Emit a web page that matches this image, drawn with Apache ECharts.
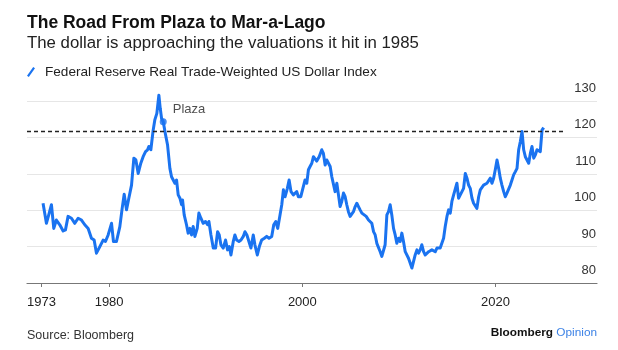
<!DOCTYPE html>
<html>
<head>
<meta charset="utf-8">
<script src="https://cdn.jsdelivr.net/npm/echarts@6/dist/echarts.min.js"></script>
<style>
  html, body { margin: 0; padding: 0; background: #fff; }
  #chart { width: 618px; height: 350px; }
</style>
</head>
<body>
<div id="chart"></div>
<script>
  // decimal years
  const dates = [
    1973.16, 1973.51, 1973.75, 1974.03, 1974.27, 1974.54, 1974.89, 1975.24, 1975.48, 1975.75,
    1976.10, 1976.45, 1976.79, 1977.14, 1977.48, 1977.83, 1978.17, 1978.45, 1978.69, 1979.04,
    1979.38, 1979.62, 1979.90, 1980.07, 1980.25, 1980.45, 1980.76, 1981.11, 1981.35, 1981.56,
    1981.80, 1982.04, 1982.32, 1982.56, 1982.77, 1983.01, 1983.28, 1983.52, 1983.77, 1983.98,
    1984.11, 1984.32, 1984.56, 1984.73, 1984.94, 1985.15, 1985.29, 1985.43, 1985.60, 1985.84,
    1986.05, 1986.29, 1986.46, 1986.64, 1986.81, 1986.98, 1987.15, 1987.33, 1987.50, 1987.60,
    1987.77, 1988.01, 1988.18, 1988.36, 1988.53, 1988.70, 1988.88, 1989.12, 1989.29, 1989.50,
    1989.74, 1989.98, 1990.19, 1990.33, 1990.54, 1990.78, 1991.02, 1991.23, 1991.40, 1991.57,
    1991.81, 1992.05, 1992.26, 1992.44, 1992.61, 1992.85, 1993.02, 1993.20, 1993.44, 1993.65,
    1993.89, 1994.06, 1994.26, 1994.47, 1994.68, 1994.92, 1995.09, 1995.34, 1995.55, 1995.79,
    1996.07, 1996.31, 1996.55, 1996.83, 1997.04, 1997.25, 1997.45, 1997.69, 1997.87, 1998.04,
    1998.21, 1998.45, 1998.63, 1998.83, 1999.07, 1999.25, 1999.42, 1999.59, 1999.84, 2000.04,
    2000.28, 2000.46, 2000.63, 2000.80, 2000.98, 2001.15, 2001.32, 2001.49, 2001.74, 2002.01,
    2002.18, 2002.36, 2002.53, 2002.70, 2002.88, 2003.05, 2003.22, 2003.39, 2003.57, 2003.74,
    2003.91, 2004.08, 2004.26, 2004.43, 2004.60, 2004.77, 2004.95, 2005.12, 2005.29, 2005.47,
    2005.64, 2005.81, 2005.98, 2006.16, 2006.33, 2006.61, 2006.85, 2007.02, 2007.19, 2007.37,
    2007.54, 2007.71, 2007.88, 2008.06, 2008.23, 2008.40, 2008.57, 2008.75, 2008.92, 2009.09,
    2009.26, 2009.44, 2009.61, 2009.78, 2009.96, 2010.13, 2010.30, 2010.47, 2010.65, 2010.82,
    2010.99, 2011.17, 2011.34, 2011.51, 2011.68, 2011.86, 2012.03, 2012.20, 2012.37, 2012.55,
    2012.72, 2012.89, 2013.07, 2013.24, 2013.41, 2013.58, 2013.76, 2013.93, 2014.10, 2014.27,
    2014.45, 2014.62, 2014.79, 2014.97, 2015.14, 2015.31, 2015.48, 2015.66, 2015.83, 2016.00,
    2016.17, 2016.35, 2016.52, 2016.69, 2016.87, 2017.04, 2017.21, 2017.38, 2017.56, 2017.73,
    2017.90, 2018.07, 2018.25, 2018.42, 2018.59, 2018.76, 2018.94, 2019.11, 2019.28, 2019.46,
    2019.63, 2019.80, 2019.97, 2020.15, 2020.32, 2020.49, 2020.66, 2020.84, 2021.01, 2021.18,
    2021.36, 2021.53, 2021.70, 2021.87, 2022.05, 2022.22, 2022.39, 2022.56, 2022.74, 2022.91,
    2023.08, 2023.26, 2023.43, 2023.60, 2023.77, 2023.95, 2024.12, 2024.29, 2024.46, 2024.63,
    2024.81, 2024.98
  ];

  const dollarIndex = [
    101.9, 96.4, 98.7, 101.5, 95.0, 97.3, 96.0, 94.3, 94.6, 98.3,
    97.8, 96.4, 97.8, 97.3, 96.0, 95.0, 92.3, 91.8, 88.2, 90.0,
    91.8, 91.4, 93.2, 92.8, 96.4, 91.4, 91.4, 95.5, 100.5, 104.4,
    100.1, 103.3, 106.9, 114.3, 113.8, 110.1, 112.9, 114.7, 116.1, 116.6,
    117.5, 116.6, 122.0, 124.8, 126.6, 131.6, 128.0, 125.2, 124.3, 120.7,
    117.9, 111.5, 109.2, 108.8, 107.4, 108.3, 104.2, 103.3, 101.5, 102.8,
    98.7, 96.0, 93.7, 95.0, 93.2, 95.5, 92.8, 95.0, 99.2, 97.8,
    96.4, 96.9, 96.0, 96.9, 93.2, 89.6, 89.6, 94.1, 93.2, 90.5,
    89.6, 91.8, 89.1, 90.0, 87.7, 91.4, 93.2, 91.8, 91.4, 91.8,
    92.8, 94.1, 93.2, 91.4, 89.6, 93.2, 90.5, 87.7, 90.0, 91.8,
    92.3, 92.8, 92.3, 92.8, 96.0, 96.9, 95.0, 98.7, 101.5, 105.6,
    103.7, 106.0, 108.3, 105.1, 104.2, 103.7, 105.1, 103.7, 103.7, 104.2,
    108.3, 107.4, 111.1, 112.0, 112.9, 114.7, 115.2, 113.5, 114.7, 116.6,
    115.6, 112.4, 113.8, 114.3, 112.0, 109.2, 109.7, 105.1, 107.4, 104.2,
    101.0, 102.4, 104.7, 103.7, 101.5, 99.6, 98.3, 98.7, 99.6, 101.0,
    101.9, 101.0, 100.1, 99.2, 99.6, 98.3, 97.3, 97.8, 96.4, 94.1,
    93.2, 90.9, 90.5, 88.6, 87.3, 87.3, 90.5, 98.7, 99.6, 101.5,
    98.7, 95.0, 93.2, 90.9, 92.3, 91.4, 93.7, 91.4, 88.6, 88.2,
    86.8, 85.4, 84.1, 84.5, 87.7, 89.1, 88.2, 89.1, 90.5, 88.6,
    87.7, 88.2, 88.6, 88.2, 89.1, 89.6, 88.6, 89.6, 90.0, 89.6,
    89.1, 92.3, 95.5, 98.3, 100.1, 99.2, 102.4, 104.2, 104.2, 107.4,
    103.3, 104.2, 104.2, 106.0, 110.1, 108.8, 106.9, 106.0, 103.3, 101.9,
    102.4, 100.5, 103.7, 105.6, 106.0, 106.9, 106.5, 107.4, 106.9, 108.8,
    107.4, 108.8, 111.1, 113.8, 111.5, 108.8, 106.9, 105.1, 103.7, 104.7,
    105.1, 106.9, 108.3, 109.7, 110.6, 111.5, 116.6, 118.8, 121.6, 116.6,
    114.7, 114.3, 112.9, 115.6, 117.5, 114.3, 115.2, 116.6, 117.0, 116.1,
    122.0, 122.7
  ];

  const xTickYears = [1973, 1980, 2000, 2020];
  const yTicks = [80, 90, 100, 110, 120, 130];

  // Plaza Accord point and the level it marks
  const plazaPoint = [1985.60, 124.3];
  const plazaLevel = 121.8;
  const levelLineEnd = 2027;

  const xMin = 1971.5;
  const xMax = 2030.5;

  const blue = '#1a73f0';
  const font = 'Liberation Sans, Arial, sans-serif';

  const chart = echarts.init(document.getElementById('chart'), null, { renderer: 'canvas' });

  const lineData = dates.map((d, i) => [d, dollarIndex[i]]);

  chart.setOption({
    backgroundColor: '#fff',
    animation: false,
    textStyle: { fontFamily: font },

    title: {
      left: 27,
      top: 14,
      padding: 0,
      text: 'The Road From Plaza to Mar-a-Lago',
      subtext: 'The dollar is approaching the valuations it hit in 1985',
      itemGap: 3,
      textStyle: { fontSize: 17.5, fontWeight: 'bold', color: '#111', fontFamily: font },
      subtextStyle: { fontSize: 16.8, color: '#222', fontFamily: font }
    },

    legend: {
      left: 27,
      top: 65,
      padding: 0,
      itemWidth: 8,
      itemHeight: 12,
      icon: 'path://M0,10 L7,0 L9,1.4 L2,11.4 Z',
      textStyle: { fontSize: 13.6, color: '#222', padding: [0, 0, 0, 5] },
      data: [{ name: 'Federal Reserve Real Trade-Weighted US Dollar Index', itemStyle: { color: blue } }]
    },

    grid: {
      left: 27,
      right: 21,
      top: 101,
      bottom: 67
    },

    xAxis: {
      type: 'value',
      min: xMin,
      max: xMax,
      splitLine: { show: false },
      axisLine: { show: true, lineStyle: { color: '#777', width: 1.2 } },
      axisTick: { show: true, customValues: xTickYears, length: 4, lineStyle: { color: '#777', width: 1 } },
      axisLabel: {
        customValues: xTickYears,
        margin: 13,
        fontSize: 13,
        color: '#222',
        formatter: v => String(Math.round(v))
      }
    },

    yAxis: {
      type: 'value',
      position: 'right',
      min: 80,
      max: 130,
      interval: 10,
      axisLine: { show: false },
      axisTick: { show: false },
      splitLine: { show: true, lineStyle: { color: '#e6e6e6', width: 1 } },
      axisLabel: {
        inside: true,
        margin: 1,
        fontSize: 13,
        color: '#333',
        align: 'right',
        verticalAlign: 'bottom',
        padding: [0, 0, 6, 0],
        customValues: yTicks
      }
    },

    series: [{
      name: 'Federal Reserve Real Trade-Weighted US Dollar Index',
      type: 'line',
      data: lineData,
      showSymbol: false,
      clip: false,
      z: 3,
      lineStyle: { color: blue, width: 3, join: 'round' },
      itemStyle: { color: blue },
      markLine: {
        silent: true,
        symbol: 'none',
        label: { show: false },
        lineStyle: { color: '#222', type: [4, 3], width: 1.4 },
        data: [[{ coord: [xMin, plazaLevel] }, { coord: [levelLineEnd, plazaLevel] }]]
      }
    }, {
      name: 'Plaza',
      type: 'scatter',
      data: [plazaPoint],
      symbolSize: 7,
      z: 4,
      itemStyle: { color: blue },
      label: {
        show: true,
        formatter: 'Plaza',
        position: 'right',
        distance: 6,
        offset: [0, -12],
        fontSize: 13,
        color: '#222'
      }
    }],

    graphic: [{
      type: 'text',
      left: 27,
      top: 329,
      style: { text: 'Source: Bloomberg', fontSize: 12.5, fill: '#333', font: '12.5px ' + font }
    }, {
      type: 'text',
      right: 21,
      top: 327,
      style: {
        text: '{b|Bloomberg} {o|Opinion}',
        rich: {
          b: { fontSize: 11.8, fontWeight: 'bold', fill: '#111', fontFamily: font },
          o: { fontSize: 11.8, fill: '#3c82e6', fontFamily: font }
        }
      }
    }]
  });
</script>
</body>
</html>
